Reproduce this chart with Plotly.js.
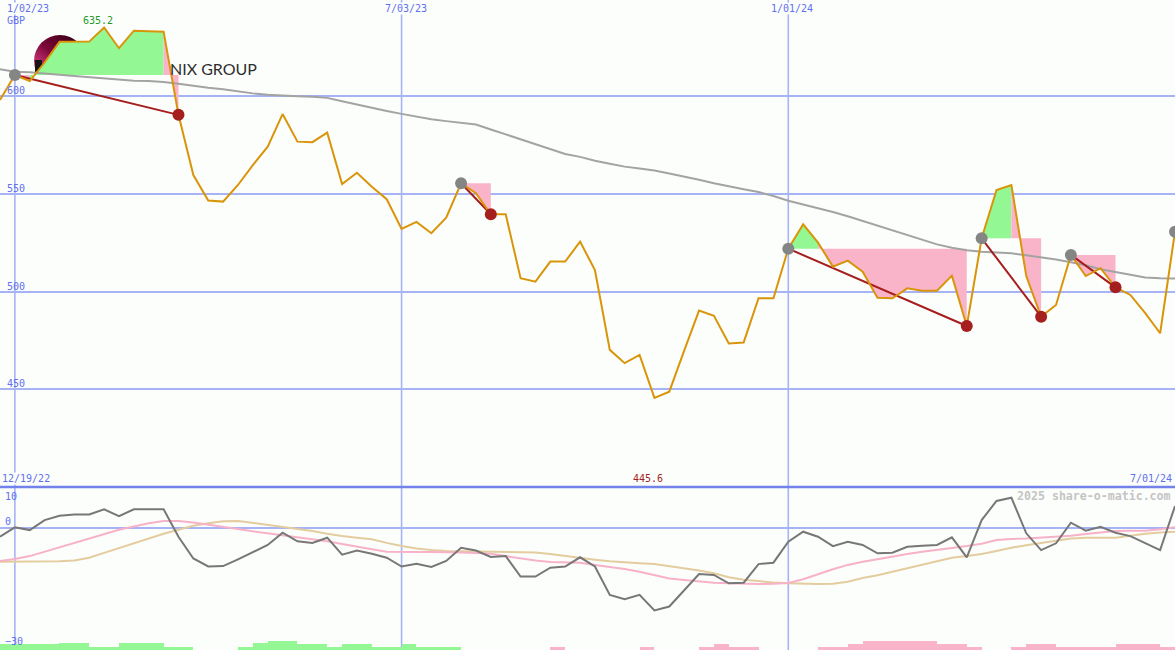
<!DOCTYPE html>
<html>
<head>
<meta charset="utf-8">
<script src="https://cdn.plot.ly/plotly-3.0.1.min.js"></script>
<style>
html,body{margin:0;padding:0;background:#fcfefc;}
#chart{width:1175px;height:650px;}
</style>
</head>
<body>
<div id="chart"></div>
<script>
// ---------------- data ----------------
const weekDates = [
 '2022-12-26','2023-01-02','2023-01-09','2023-01-16','2023-01-23','2023-01-30','2023-02-06','2023-02-13','2023-02-20','2023-02-27',
 '2023-03-06','2023-03-13','2023-03-20','2023-03-27','2023-04-03','2023-04-10','2023-04-17','2023-04-24','2023-05-01','2023-05-08',
 '2023-05-15','2023-05-22','2023-05-29','2023-06-05','2023-06-12','2023-06-19','2023-06-26','2023-07-03','2023-07-10','2023-07-17',
 '2023-07-24','2023-07-31','2023-08-07','2023-08-14','2023-08-21','2023-08-28','2023-09-04','2023-09-11','2023-09-18','2023-09-25',
 '2023-10-02','2023-10-09','2023-10-16','2023-10-23','2023-10-30','2023-11-06','2023-11-13','2023-11-20','2023-11-27','2023-12-04',
 '2023-12-11','2023-12-18','2023-12-25','2024-01-01','2024-01-08','2024-01-15','2024-01-22','2024-01-29','2024-02-05','2024-02-12',
 '2024-02-19','2024-02-26','2024-03-04','2024-03-11','2024-03-18','2024-03-25','2024-04-01','2024-04-08','2024-04-15','2024-04-22',
 '2024-04-29','2024-05-06','2024-05-13','2024-05-20','2024-05-27','2024-06-03','2024-06-10','2024-06-17','2024-06-24','2024-07-01'
];
const price = [
 598.1,610.9,607.8,617.3,627.9,627.9,628.0,635.2,624.6,633.6,
 633.4,633.1,590.5,559.7,546.6,546.1,554.6,564.8,574.2,590.9,
 576.8,576.5,581.4,555.1,560.9,553.7,547.3,532.1,535.7,529.9,
 537.9,555.5,550.4,539.6,539.6,506.9,505.1,515.4,515.4,525.6,
 511.1,470.2,463.4,467.6,445.6,448.8,469.8,490.3,487.6,473.5,
 474.0,496.6,496.6,522.0,534.5,525.1,512.8,515.9,510.2,496.9,
 496.6,501.7,500.5,500.5,508.2,482.4,527.3,552.0,554.6,508.0,
 487.2,493.2,518.8,508.0,512.0,502.2,498.3,489.0,478.7,530.7
];
const movingAvg = [
 613.8,612.6,612.3,611.8,611.0,610.4,609.8,609.2,608.6,608.0,
 607.8,607.3,606.4,605.3,604.4,603.6,602.5,601.5,600.8,600.3,
 600.0,599.8,599.2,597.5,595.8,594.0,592.5,591.0,589.6,588.3,
 587.3,586.5,585.6,583.0,580.5,578.0,575.5,573.0,570.5,569.0,
 567.0,565.5,564.0,563.0,562.0,560.5,559.0,557.3,555.5,553.8,
 552.4,551.0,549.0,546.5,544.6,542.8,540.8,538.6,536.2,534.0,
 531.5,529.0,526.5,524.2,522.5,521.2,520.4,520.1,519.6,518.6,
 517.5,516.5,515.0,513.5,511.5,510.0,508.5,507.3,506.8,506.7
];
const peakIdx = [1, 31, 53, 66, 72, 79];
const troughIdx = [12, 33, 65, 70, 75];

const oscillator = [
 -2.25,0.1,-0.6,1.9,3.0,3.3,3.3,4.6,2.9,4.6,
 4.6,4.6,-2.25,-7.7,-9.7,-9.6,-7.9,-6.2,-4.3,-1.25,
 -3.4,-3.8,-2.5,-6.75,-5.7,-6.5,-7.5,-9.7,-9.0,-9.8,
 -8.3,-5.0,-5.7,-7.3,-7.1,-12.2,-12.2,-10.0,-9.7,-7.4,
 -9.7,-16.8,-17.9,-16.8,-20.7,-19.7,-15.6,-11.6,-11.8,-13.9,
 -13.75,-9.1,-8.75,-3.5,-1.0,-2.25,-4.6,-3.5,-4.3,-6.4,
 -6.25,-4.75,-4.5,-4.3,-2.4,-7.4,1.9,6.7,7.5,-1.4,
 -5.6,-3.9,1.25,-0.75,0.25,-1.25,-2.1,-3.75,-5.6,5.4
];
const signalFast = [
 -8.3,-7.8,-7.1,-6.0,-4.9,-3.8,-2.7,-1.6,-0.5,0.3,
 1.1,1.7,1.7,1.3,0.8,0.2,-0.3,-0.9,-1.4,-1.9,
 -2.3,-2.8,-3.4,-4.1,-4.8,-5.4,-6.0,-6.1,-6.1,-6.1,
 -6.1,-6.2,-6.3,-6.5,-7.1,-7.7,-8.2,-8.6,-8.7,-8.75,
 -9.3,-9.8,-10.3,-11.0,-11.9,-12.7,-13.1,-13.5,-13.75,-13.9,
 -14.0,-14.1,-14.0,-13.8,-12.9,-11.6,-10.4,-9.3,-8.5,-7.9,
 -7.2,-6.6,-6.0,-5.6,-5.1,-4.6,-4.0,-3.1,-2.8,-2.7,
 -2.5,-2.2,-2.0,-1.6,-1.2,-0.8,-0.75,-0.75,-0.4,0.1
];
const signalSlow = [
 -8.5,-8.5,-8.5,-8.5,-8.4,-8.2,-7.5,-6.3,-5.1,-3.9,
 -2.7,-1.5,-0.5,0.5,1.1,1.6,1.7,1.2,0.7,0.2,
 -0.2,-0.8,-1.5,-2.1,-2.5,-2.9,-3.8,-4.6,-5.2,-5.6,
 -5.8,-5.85,-5.9,-5.9,-6.0,-6.1,-6.2,-6.6,-7.1,-7.65,
 -8.0,-8.4,-8.7,-8.9,-9.1,-9.6,-10.1,-10.7,-11.4,-12.4,
 -13.0,-13.4,-13.7,-13.9,-14.0,-14.1,-14.0,-13.5,-12.6,-11.9,
 -11.0,-10.1,-9.3,-8.3,-7.5,-7.1,-6.6,-5.8,-5.0,-4.4,
 -3.8,-3.2,-2.7,-2.5,-2.5,-2.5,-2.0,-1.5,-1.2,-1.0
];
// weekly strip bars along the bottom (+ green / - pink)
const stripBars = [
 1.5,1.5,1.5,1.5,1.7,1.7,0.7,0.7,1.7,1.7,
 1.7,0.7,0.7,0,0,0,0.7,1.7,2.25,2.25,
 1.5,1.5,0.75,1.5,1.5,0.75,0.75,1.5,0.75,0.75,
 0.75,0,0,0,0,0,0,-0.75,0,0,
 0,0,0,-0.7,0,0,0,-0.7,-1.5,-0.7,
 -0.7,0,0,0,0,-0.7,-0.7,-1.5,-2.25,-2.25,
 -2.25,-2.25,-2.25,-1.5,-1.5,-0.7,0,0,-0.7,-1.5,
 -1.5,-0.7,-0.7,-0.7,-0.7,-1.5,-1.5,-1.5,-0.7
];

const mainTicks = [600, 550, 500, 450];
const subTicks = [10, 0, -30];
const gridDates = ['2023-01-02', '2023-07-03', '2024-01-01'];
const xStart = '2022-12-26', xEnd = '2024-07-01';
const startLabel = '12/19/22', endLabel = '7/01/24';
const gridLabels = ['1/02/23', '7/03/23', '1/01/24'];
const currency = 'GBP';
const logoText = 'NIX GROUP';
const credit = '2025 share-o-matic.com';

// ---------------- styling ----------------
const W = 1175, H = 650;
const BG = '#fcfefc';
const BLUE_TXT = '#5f70f0';
const GRID = '#a6b3f5';
const GREEN = '#93f893';
const PINK = '#fab4c9';
const MONO = 'DejaVu Sans Mono, monospace';
const splitPx = 487;
const splitFrac = (H - splitPx) / H;

function pxOfDate(d) {
  const a = Date.parse(xStart), b = Date.parse(xEnd);
  return (Date.parse(d) - a) / (b - a) * W;
}

const traces = [];

// fills between price and the level of each peak, until its trough
peakIdx.slice(0, troughIdx.length).forEach((g, k) => {
  const r = troughIdx[k];
  const level = price[g];
  let runStart = g, runColor = null;
  const flush = (a, b, col) => {
    const xs = [weekDates[a]], ys = [level];
    for (let i = a; i <= b; i++) { xs.push(weekDates[i]); ys.push(price[i]); }
    xs.push(weekDates[b]); ys.push(level);
    traces.push({x: xs, y: ys, type: 'scatter', mode: 'lines', fill: 'toself',
      fillcolor: col, line: {width: 0}, hoverinfo: 'skip', showlegend: false});
  };
  for (let i = g; i < r; i++) {
    const col = price[i + 1] >= level ? GREEN : PINK;
    if (runColor === null) { runColor = col; runStart = i; }
    else if (col !== runColor) { flush(runStart, i, runColor); runColor = col; runStart = i; }
  }
  flush(runStart, r, runColor);
});

// moving average
traces.push({x: weekDates, y: movingAvg, type: 'scatter', mode: 'lines',
  line: {color: '#a3a3a3', width: 2}, hoverinfo: 'skip', showlegend: false});

// peak -> trough lines
const lx = [], ly = [];
troughIdx.forEach((r, k) => {
  const g = peakIdx[k];
  lx.push(weekDates[g], weekDates[r], null);
  ly.push(price[g], price[r], null);
});
traces.push({x: lx, y: ly, type: 'scatter', mode: 'lines',
  line: {color: '#a51d1d', width: 2}, hoverinfo: 'skip', showlegend: false});

// price
traces.push({x: weekDates, y: price, type: 'scatter', mode: 'lines',
  line: {color: '#d9950a', width: 2}, hoverinfo: 'skip', showlegend: false});

// dots
traces.push({x: peakIdx.map(i => weekDates[i]), y: peakIdx.map(i => price[i]),
  type: 'scatter', mode: 'markers', marker: {color: '#858585', size: 12, line: {width: 0}},
  hoverinfo: 'skip', showlegend: false});
traces.push({x: troughIdx.map(i => weekDates[i]), y: troughIdx.map(i => price[i]),
  type: 'scatter', mode: 'markers', marker: {color: '#a51f1f', size: 12, line: {width: 0}},
  hoverinfo: 'skip', showlegend: false});

// bottom strip bars
const yBottom = -30.575, yTop = 10.175;
traces.push({x: weekDates.slice(0, stripBars.length), y: stripBars.map(Math.abs),
  base: yBottom, offset: 0, width: 7 * 86400000, type: 'bar', xaxis: 'x', yaxis: 'y2',
  marker: {color: stripBars.map(v => v >= 0 ? GREEN : PINK), line: {width: 0}},
  hoverinfo: 'skip', showlegend: false});

traces.push({x: weekDates, y: signalSlow, type: 'scatter', mode: 'lines', xaxis: 'x', yaxis: 'y2',
  line: {color: '#e3cc9e', width: 2}, hoverinfo: 'skip', showlegend: false});
traces.push({x: weekDates, y: signalFast, type: 'scatter', mode: 'lines', xaxis: 'x', yaxis: 'y2',
  line: {color: '#f7b1c8', width: 2}, hoverinfo: 'skip', showlegend: false});
traces.push({x: weekDates, y: oscillator, type: 'scatter', mode: 'lines', xaxis: 'x', yaxis: 'y2',
  line: {color: '#777777', width: 2}, hoverinfo: 'skip', showlegend: false});

// ---------------- annotations ----------------
const ann = [];
const fnt = (c, s) => ({family: MONO, size: s || 10, color: c || BLUE_TXT});
const py = p => 1 - p / H;

gridLabels.forEach((t, k) => {
  const cx = Math.max(pxOfDate(gridDates[k]) + 4, 28);
  ann.push({text: t, xref: 'paper', yref: 'paper', x: cx / W, y: py(9), xanchor: 'center', yanchor: 'middle',
    showarrow: false, font: fnt(), bgcolor: BG, borderpad: 0});
});
ann.push({text: startLabel, xref: 'paper', yref: 'paper', x: 1 / W, y: py(478.5), xanchor: 'left', yanchor: 'middle',
  showarrow: false, font: fnt(), bgcolor: BG, borderpad: 0});
ann.push({text: endLabel, xref: 'paper', yref: 'paper', x: 1173 / W, y: py(478.5), xanchor: 'right', yanchor: 'middle',
  showarrow: false, font: fnt(), bgcolor: BG, borderpad: 0});
ann.push({text: currency, xref: 'paper', yref: 'paper', x: 5 / W, y: py(21), xanchor: 'left', yanchor: 'middle',
  showarrow: false, font: fnt()});

mainTicks.forEach(v => ann.push({text: String(v), xref: 'paper', yref: 'y', x: 5 / W, y: v, xanchor: 'left',
  yanchor: 'middle', yshift: 5.5, showarrow: false, font: fnt()}));
subTicks.forEach(v => ann.push({text: String(v).replace('-', '\u2212'), xref: 'paper', yref: 'y2', x: 3 / W, y: v,
  xanchor: 'left', yanchor: 'middle', yshift: v === subTicks[0] ? -8.3 : 6, showarrow: false, font: fnt()}));

// max / min labels
const maxV = Math.max(...price), minV = Math.min(...price);
const maxI = price.indexOf(maxV), minI = price.indexOf(minV);
ann.push({text: maxV.toFixed(1), xref: 'paper', yref: 'paper', x: (pxOfDate(weekDates[maxI]) - 6) / W, y: py(21),
  xanchor: 'center', yanchor: 'middle', showarrow: false, font: fnt('#1f9a1f')});
ann.push({text: minV.toFixed(1), xref: 'paper', yref: 'paper', x: (pxOfDate(weekDates[minI]) - 6) / W, y: py(478.5),
  xanchor: 'center', yanchor: 'middle', showarrow: false, font: fnt('#a51f1f')});

ann.push({text: '<b>' + credit + '</b>', xref: 'paper', yref: 'paper', x: 1173 / W, y: py(495.7), xanchor: 'right',
  yanchor: 'middle', showarrow: false, font: {family: MONO, size: 11.6, color: '#c4c4c4'}});

ann.push({text: logoText, xref: 'paper', yref: 'paper', x: 168 / W, y: py(68.5), xanchor: 'left', yanchor: 'middle',
  showarrow: false, font: {family: 'Lato, sans-serif', size: 16, color: '#2e2e2e'}});

// ---------------- shapes ----------------
const shapes = [];
gridDates.forEach(d => shapes.push({type: 'line', xref: 'x', yref: 'paper', x0: d, x1: d, y0: 0, y1: 1,
  line: {color: GRID, width: 1.6}, layer: 'below'}));
shapes.push({type: 'line', xref: 'paper', yref: 'paper', x0: 0, x1: 1, y0: splitFrac, y1: splitFrac,
  line: {color: '#7282ea', width: 2.5}, layer: 'above'});

// logo mark (half-hidden sun disc)
const logoSvg = "<svg xmlns='http://www.w3.org/2000/svg' width='60' height='50' viewBox='0 0 60 50'>" +
  "<defs><linearGradient id='g' x1='0.75' y1='0' x2='0.1' y2='0.8'>" +
  "<stop offset='0' stop-color='#3c0018'/><stop offset='0.5' stop-color='#7a0836'/><stop offset='1' stop-color='#f2479c'/>" +
  "</linearGradient><clipPath id='c'><rect x='0' y='0' width='60' height='40'/></clipPath></defs>" +
  "<circle cx='30' cy='31' r='26' fill='url(#g)' clip-path='url(#c)'/>" +
  "<rect x='5' y='30' width='7' height='12' fill='#151515'/></svg>";

const layout = {
  width: W, height: H,
  margin: {l: 0, r: 0, t: 0, b: 0, pad: 0},
  paper_bgcolor: BG, plot_bgcolor: BG,
  showlegend: false,
  bargap: 0,
  xaxis: {type: 'date', range: [xStart, xEnd], domain: [0, 1], anchor: 'y2', visible: false, fixedrange: true},
  yaxis: {domain: [splitFrac, 1], range: [400, 649.3], tickvals: mainTicks, showticklabels: false,
    showgrid: true, gridcolor: GRID, gridwidth: 2, zeroline: false, showline: false, ticks: '', fixedrange: true},
  yaxis2: {domain: [0, splitFrac], range: [yBottom, yTop], tickvals: [0], showticklabels: false,
    showgrid: true, gridcolor: GRID, gridwidth: 2, zeroline: false, showline: false, ticks: '', fixedrange: true},
  annotations: ann,
  shapes: shapes,
  images: [{source: 'data:image/svg+xml;charset=utf-8,' + encodeURIComponent(logoSvg),
    xref: 'paper', yref: 'paper', x: 30 / W, y: py(30), sizex: 60 / W, sizey: 50 / H,
    xanchor: 'left', yanchor: 'top', sizing: 'stretch', layer: 'below'}]
};

Plotly.newPlot('chart', traces, layout, {staticPlot: true, displayModeBar: false});
</script>
</body>
</html>
